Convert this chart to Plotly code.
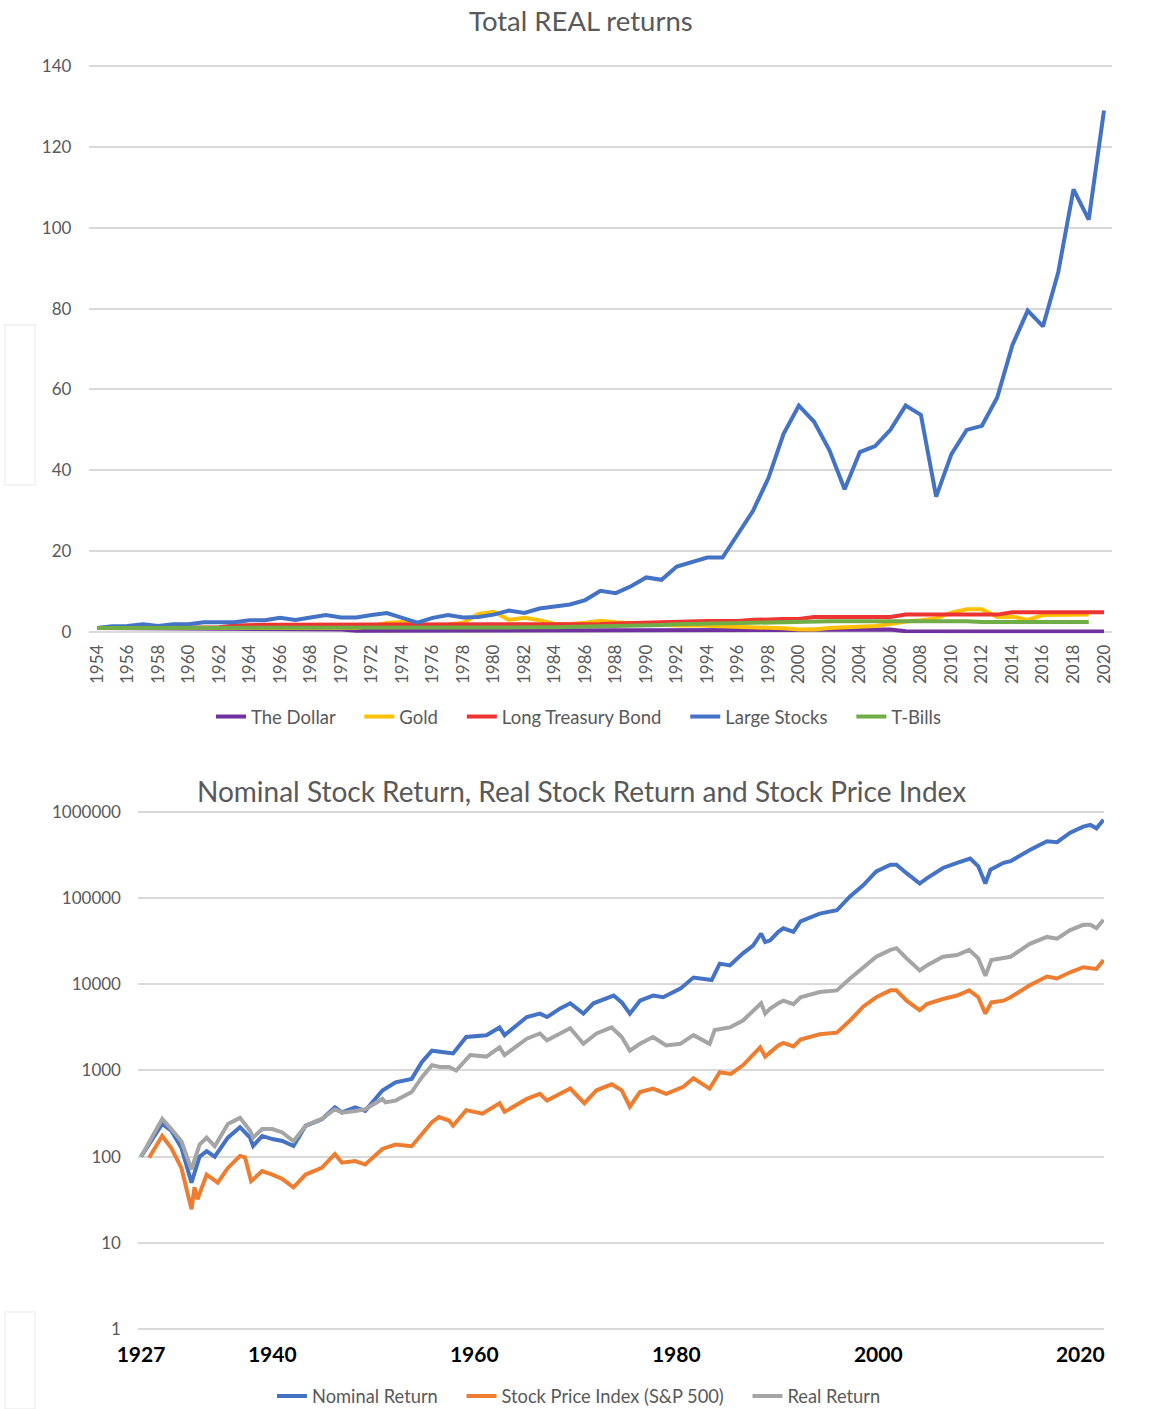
import plotly.graph_objects as go

# ---------------- Top chart data: Total REAL returns ----------------
years = list(range(1954, 2021))          # 1954..2020
years_short = list(range(1954, 2020))    # 1954..2019

dollar = [1.0, 0.99, 0.96, 0.93, 0.9, 0.9, 0.88, 0.87, 0.86, 0.85, 0.84, 0.83, 0.8, 0.78, 0.75, 0.71,
          0.6, 0.3, 0.3, 0.3, 0.3, 0.3, 0.3, 0.3, 0.3, 0.3, 0.3, 0.3, 0.35, 0.4, 0.4, 0.45, 0.5,
          0.5, 0.5, 0.5, 0.5, 0.5, 0.5, 0.5, 0.5, 0.5, 0.5, 0.5, 0.5, 0.5, 0.5, 0.55, 0.6, 0.6,
          0.6, 0.6, 0.6, 0.2, 0.15, 0.15, 0.15, 0.15, 0.15, 0.15, 0.15, 0.15, 0.15, 0.15, 0.15, 0.15, 0.15]

gold = [1.0, 1.0, 0.98, 0.97, 0.95, 0.95, 0.94, 0.93, 0.92, 0.92, 0.9, 0.9, 0.9, 0.88, 0.9, 0.9, 0.85,
        1.0, 1.5, 2.2, 2.5, 1.9, 1.6, 1.8, 2.3, 4.5, 5.0, 3.0, 3.5, 2.9, 2.0, 2.0, 2.3, 2.8, 2.4,
        2.2, 2.0, 1.8, 1.6, 1.7, 1.6, 1.5, 1.4, 1.1, 1.0, 0.9, 0.6, 0.6, 1.0, 1.2, 1.3, 1.5, 2.0,
        2.6, 2.9, 3.4, 4.8, 5.6, 5.6, 3.7, 3.8, 3.0, 4.2, 4.2, 4.2, 4.3]

treasury = [1.0, 1.0, 1.0, 1.05, 1.05, 1.05, 1.1, 1.15, 1.2, 1.6, 1.8, 1.8, 1.8, 1.8, 1.8, 1.8,
            1.8, 1.8, 1.8, 1.8, 1.8, 1.8, 1.8, 1.8, 1.8, 1.8, 1.8, 1.8, 1.8, 1.8, 1.8, 1.8, 2.0,
            2.0, 2.1, 2.2, 2.3, 2.5, 2.7, 2.7, 2.7, 2.7, 2.7, 3.0, 3.2, 3.2, 3.2, 3.7, 3.7, 3.7,
            3.7, 3.7, 3.7, 4.3, 4.3, 4.3, 4.3, 4.3, 4.3, 4.3, 4.9, 4.9, 4.9, 4.9, 4.9, 4.9, 4.9]

large_stocks = [1.0, 1.4, 1.5, 1.9, 1.5, 1.9, 1.9, 2.4, 2.4, 2.4, 2.9, 2.9, 3.5, 3.0, 3.6, 4.2,
                3.6, 3.6, 4.2, 4.7, 3.5, 2.3, 3.5, 4.2, 3.6, 3.7, 4.3, 5.3, 4.7, 5.8, 6.3, 6.8,
                7.9, 10.2, 9.6, 11.3, 13.5, 12.9, 16.2, 17.3, 18.4, 18.4, 24.0, 30.0, 38.0, 49.0,
                56.0, 52.0, 45.0, 35.3, 44.5, 46.0, 50.0, 56.0, 53.7, 33.5, 44.0, 50.0, 51.0,
                58.0, 71.0, 79.5, 75.6, 89.0, 109.5, 102.0, 129.0]

tbills = [1.0, 1.0, 1.0, 1.0, 1.0, 1.0, 1.0, 1.0, 1.0, 1.0, 1.0, 1.0, 1.0, 1.0, 1.0, 1.0, 1.0,
          1.0, 1.0, 1.0, 0.95, 0.95, 0.95, 0.95, 0.95, 0.95, 1.0, 1.05, 1.1, 1.15, 1.2, 1.25,
          1.3, 1.35, 1.4, 1.5, 1.6, 1.75, 1.9, 2.0, 2.1, 2.2, 2.3, 2.4, 2.5, 2.5, 2.6, 2.65,
          2.65, 2.65, 2.65, 2.65, 2.7, 2.75, 2.75, 2.7, 2.7, 2.65, 2.5, 2.45, 2.4, 2.4, 2.4,
          2.45, 2.5, 2.5]

top_ticks = list(range(1954, 2021, 2))

# ---------------- Bottom chart data (log scale) ----------------
nom_x = [1927.0, 1929.1, 1930.0, 1931.0, 1932.0, 1932.8, 1933.5, 1934.3, 1935.6, 1936.8, 1937.8,
         1938.1, 1939.0, 1940.0, 1941.0, 1942.1, 1943.3, 1944.9, 1946.2, 1946.9, 1948.2, 1949.2,
         1950.9, 1952.2, 1953.8, 1954.8, 1955.8, 1957.0, 1957.9, 1959.2, 1961.2, 1962.5, 1963.0,
         1965.2, 1966.5, 1967.2, 1968.5, 1969.5, 1970.8, 1971.8, 1973.8, 1974.6, 1975.4, 1976.4,
         1977.7, 1978.7, 1980.4, 1981.7, 1983.0, 1983.5, 1984.3, 1985.3, 1986.6, 1987.6, 1988.4,
         1988.8, 1989.3, 1990.1, 1990.6, 1991.6, 1992.3, 1994.2, 1995.9, 1997.2, 1998.5, 1999.8,
         2001.2, 2001.8, 2002.8, 2004.1, 2004.8, 2006.4, 2007.8, 2009.1, 2009.9, 2010.6, 2011.1,
         2012.4, 2013.1, 2015.0, 2016.7, 2017.7, 2019.0, 2020.3, 2021.0, 2021.6, 2022.3]
nom_y = [100, 240, 200, 127, 50, 100, 116, 100, 166, 220, 166,
         133, 174, 160, 152, 133, 228, 272, 373, 326, 373, 340,
         585, 730, 800, 1250, 1700, 1650, 1580, 2450, 2570, 3160, 2570,
         4170, 4570, 4170, 5250, 6030, 4570, 6030, 7410, 6170, 4570, 6460,
         7410, 7080, 8910, 12000, 11200, 11200, 17400, 16600, 22900, 28200, 38900,
         30900, 32400, 40700, 44700, 40700, 53700, 66100, 72400, 105000, 141000, 204000,
         245000, 245000, 195000, 148000, 170000, 224000, 257000, 288000, 234000, 148000, 214000,
         257000, 269000, 363000, 457000, 447000, 575000, 676000, 708000, 646000, 813000]

price_x = [1927.8, 1929.1, 1930.0, 1931.0, 1932.0, 1932.3, 1932.6, 1933.5, 1934.6, 1935.6, 1936.8,
           1937.3, 1937.9, 1939.0, 1940.0, 1941.0, 1942.1, 1943.3, 1944.9, 1946.2, 1946.9, 1948.2,
           1949.2, 1950.9, 1952.2, 1953.8, 1954.8, 1955.8, 1956.5, 1957.5, 1957.9, 1959.2, 1960.8,
           1962.5, 1963.0, 1965.2, 1966.5, 1967.2, 1969.5, 1970.9, 1972.1, 1973.6, 1974.6, 1975.4,
           1976.4, 1977.7, 1979.0, 1980.7, 1981.7, 1983.3, 1984.3, 1985.4, 1986.6, 1988.3, 1988.8,
           1990.1, 1990.6, 1991.6, 1992.3, 1994.2, 1995.9, 1997.2, 1998.5, 1999.8, 2001.2, 2001.8,
           2002.8, 2004.1, 2004.8, 2006.4, 2007.8, 2009.0, 2009.9, 2010.6, 2011.2, 2012.4, 2013.1,
           2015.0, 2016.7, 2017.7, 2019.0, 2020.3, 2021.6, 2022.3]
price_y = [97, 174, 126, 74, 24.5, 44, 32, 62, 50, 74, 102,
           98, 52, 68, 62, 55, 44, 62, 74, 107, 85, 89,
           81, 123, 138, 132, 182, 251, 288, 263, 229, 347, 316,
           417, 331, 468, 537, 447, 617, 417, 589, 692, 589, 380,
           562, 617, 537, 646, 813, 617, 955, 912, 1150, 1860, 1450,
           1950, 2090, 1900, 2290, 2630, 2750, 3800, 5500, 7080, 8510, 8510,
           6460, 5010, 5890, 6760, 7410, 8510, 7080, 4570, 6170, 6460, 7080,
           9770, 12300, 11700, 13800, 15800, 15100, 19100]

real_x = [1927.0, 1929.1, 1930.0, 1931.0, 1932.0, 1932.8, 1933.5, 1934.3, 1935.6, 1936.8, 1937.8,
          1938.1, 1939.0, 1940.0, 1941.0, 1942.1, 1943.3, 1944.9, 1946.2, 1946.9, 1948.2, 1949.2,
          1950.9, 1951.2, 1952.2, 1953.8, 1954.8, 1955.8, 1956.6, 1957.5, 1958.2, 1959.6, 1961.2,
          1962.5, 1963.0, 1965.2, 1966.5, 1967.2, 1969.5, 1970.8, 1972.1, 1973.6, 1974.6, 1975.4,
          1976.4, 1977.7, 1979.0, 1980.4, 1981.7, 1983.3, 1983.8, 1985.3, 1986.6, 1988.4, 1988.8,
          1989.3, 1990.1, 1990.6, 1991.6, 1992.3, 1994.2, 1995.9, 1997.2, 1998.5, 1999.8, 2001.2,
          2001.8, 2002.8, 2004.1, 2004.8, 2006.4, 2007.8, 2009.0, 2009.9, 2010.6, 2011.2, 2012.4,
          2013.1, 2015.0, 2016.7, 2017.7, 2019.0, 2020.3, 2021.0, 2021.6, 2022.3]
real_y = [100, 275, 209, 151, 71, 138, 166, 132, 240, 282, 200,
          166, 209, 209, 191, 151, 229, 275, 355, 324, 339, 355,
          468, 427, 447, 562, 832, 1150, 1100, 1100, 1000, 1510, 1450,
          1860, 1510, 2340, 2690, 2240, 3090, 2040, 2690, 3160, 2450, 1700,
          2040, 2450, 1950, 2040, 2570, 2040, 2950, 3160, 3800, 6030, 4570,
          5250, 6030, 6460, 5890, 7080, 8130, 8510, 11700, 15800, 20900, 25100,
          26300, 20000, 14500, 16600, 20900, 21900, 25100, 20000, 12600, 19100, 20000,
          20900, 29500, 35500, 33900, 42700, 49000, 49000, 44700, 56200]

bottom_ticks = [1927, 1940, 1960, 1980, 2000, 2020]
log_ticks = [1, 10, 100, 1000, 10000, 100000, 1000000]

# ---------------- Layout helpers ----------------
W, H = 1161, 1409


def fx(px):
    return px / W


def fy(py):
    return 1 - py / H


FONT = "Lato, 'Open Sans', sans-serif"
GREY_TXT = "#595959"
GRID = "#D9D9D9"
PAD = "\u00a0" * 4

fig = go.Figure()

top_series = [
    ("The Dollar", "#7030A0", years, dollar),
    ("Gold", "#FFC000", years_short, gold),
    ("Long Treasury Bond", "#EE3333", years, treasury),
    ("Large Stocks", "#4472C4", years, large_stocks),
    ("T-Bills", "#70AD47", years_short, tbills),
]
for name, color, xs, ys in top_series:
    fig.add_trace(go.Scatter(x=xs, y=ys, mode="lines", name=name + PAD,
                             line=dict(color=color, width=4),
                             xaxis="x", yaxis="y", legend="legend"))

bottom_series = [
    ("Nominal Return", "#4472C4", nom_x, nom_y),
    ("Stock Price Index (S&P 500)", "#ED7D31", price_x, price_y),
    ("Real Return", "#A5A5A5", real_x, real_y),
]
for name, color, xs, ys in bottom_series:
    fig.add_trace(go.Scatter(x=xs, y=ys, mode="lines", name=name + PAD,
                             line=dict(color=color, width=4),
                             xaxis="x2", yaxis="y2", legend="legend2"))

# top chart: value 0 at y=632, 140 at y=66 ; years 1954 at x=97, 2020 at x=1104
top_ppu = (632 - 66) / 140.0
top_rng = [-0.3, 140.3]
top_dom = [fy(632 - top_rng[0] * top_ppu), fy(632 - top_rng[1] * top_ppu)]
top_ppy = (1104 - 97) / 66.0
top_xr = [1953.5, 2020.5]
top_xdom = [fx(97 + (top_xr[0] - 1954) * top_ppy), fx(97 + (top_xr[1] - 1954) * top_ppy)]

# bottom chart: 1 at y=1329, 1e6 at y=812 ; 1927 at x=141, 10.1 px/yr
bot_ppd = (1329 - 812) / 6.0
bot_rng = [-0.03, 6.03]
bot_dom = [fy(1329 - bot_rng[0] * bot_ppd), fy(1329 - bot_rng[1] * bot_ppd)]
bot_xr = [1926.7, 2022.35]
bot_xdom = [fx(141 + (bot_xr[0] - 1927) * 10.1), fx(141 + (bot_xr[1] - 1927) * 10.1)]

fig.update_layout(
    width=W, height=H,
    margin=dict(l=0, r=0, t=0, b=0, autoexpand=False),
    paper_bgcolor="white", plot_bgcolor="white",
    font=dict(family=FONT, color=GREY_TXT),
    xaxis=dict(domain=top_xdom, range=top_xr, anchor="y", automargin=False,
               tickmode="array", tickvals=top_ticks, tickangle=-90,
               showgrid=False, zeroline=False, showline=False,
               ticks="", ticklabelstandoff=7,
               tickfont=dict(family=FONT, size=17, color=GREY_TXT)),
    yaxis=dict(domain=top_dom, range=top_rng, tickmode="array", tickvals=list(range(0, 141, 20)),
               anchor="x", automargin=False, showgrid=True, gridcolor=GRID, gridwidth=1.5,
               zeroline=False, showline=False, ticks="", ticklabelstandoff=17,
               tickfont=dict(family=FONT, size=17, color=GREY_TXT)),
    xaxis2=dict(domain=bot_xdom, range=bot_xr, anchor="y2", automargin=False,
                tickmode="array", tickvals=bottom_ticks,
                showgrid=False, zeroline=False, showline=False, ticks="",
                ticklabelstandoff=8,
                tickfont=dict(family=FONT, size=21, color="black", weight="bold")),
    yaxis2=dict(domain=bot_dom, type="log", range=bot_rng, anchor="x2", automargin=False,
                tickmode="array", tickvals=log_ticks, ticktext=[str(v) for v in log_ticks],
                showgrid=True, gridcolor=GRID, gridwidth=1.5, zeroline=False, showline=False,
                ticks="", ticklabelstandoff=16,
                tickfont=dict(family=FONT, size=17, color=GREY_TXT)),
    legend=dict(orientation="h", x=fx(588), xanchor="center", y=fy(717), yanchor="middle",
                font=dict(family=FONT, size=18.5, color=GREY_TXT), bgcolor="rgba(0,0,0,0)"),
    legend2=dict(orientation="h", x=fx(588), xanchor="center", y=fy(1396), yanchor="middle",
                 font=dict(family=FONT, size=18.3, color=GREY_TXT), bgcolor="rgba(0,0,0,0)"),
    annotations=[
        dict(text="Total REAL returns", x=fx(581), y=fy(21), xref="paper", yref="paper",
             xanchor="center", yanchor="middle", showarrow=False,
             font=dict(family=FONT, size=27.5, color=GREY_TXT)),
        dict(text="Nominal Stock Return, Real Stock Return and Stock Price Index",
             x=fx(581), y=fy(791), xref="paper", yref="paper",
             xanchor="center", yanchor="middle", showarrow=False,
             font=dict(family=FONT, size=28, color=GREY_TXT)),
    ],
    shapes=[
        dict(type="rect", xref="paper", yref="paper", x0=fx(5), x1=fx(35),
             y0=fy(485), y1=fy(325), line=dict(color="#EFEFEF", width=1.5), layer="below"),
        dict(type="rect", xref="paper", yref="paper", x0=fx(5), x1=fx(35),
             y0=fy(1409), y1=fy(1312), line=dict(color="#EFEFEF", width=1.5), layer="below"),
    ],
)

fig.write_html(
    "out.html",
    config={"displayModeBar": False},
    post_script="document.body.style.margin='0';document.body.style.overflow='hidden';",
)
